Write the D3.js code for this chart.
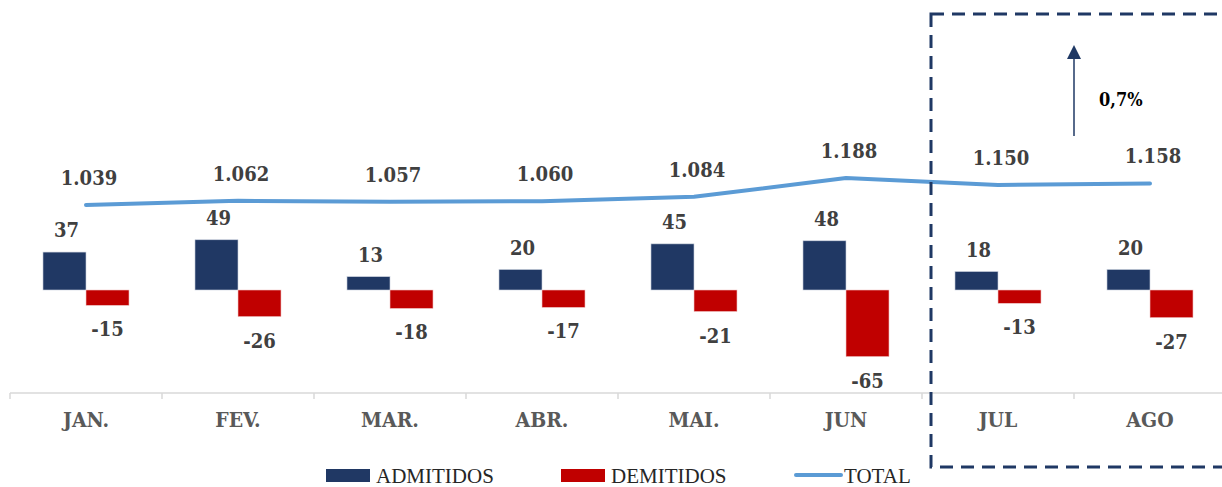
<!DOCTYPE html>
<html>
<head>
<meta charset="utf-8">
<script src="https://cdn.jsdelivr.net/npm/d3@7"></script>
<style>
  body { margin: 0; background: #fff; }
  svg { display: block; }
</style>
</head>
<body>
<svg id="chart" width="1222" height="487"></svg>
<script>
const months = ["JAN.", "FEV.", "MAR.", "ABR.", "MAI.", "JUN", "JUL", "AGO"];
const admitidos = [37, 49, 13, 20, 45, 48, 18, 20];
const demitidos = [-15, -26, -18, -17, -21, -65, -13, -27];
const total = [1039, 1062, 1057, 1060, 1084, 1188, 1150, 1158];
const growth = "0,7%";

const svg = d3.select("#chart");
const labelFont = "'DejaVu Serif Condensed', 'DejaVu Serif', serif";
const labelColor = "#404040";

// scales
const x = d3.scaleBand().domain(months).range([10, 1226]).paddingInner(0);
const x1 = d3.scaleBand().domain(["adm", "dem"]).range([0, x.bandwidth()]).paddingOuter(0.767);
const yBar = d3.scaleLinear().domain([-100, 100]).range([392.5, 187.5]);
const yLine = d3.scaleLinear().domain([1039, 1188]).range([205, 178]);

// x axis
const axis = svg.append("g").attr("transform", "translate(0,393)");
axis.append("line").attr("x1", 10).attr("x2", 1222).attr("stroke", "#d9d9d9").attr("stroke-width", 1.5);
axis.selectAll(".tick").data(months).enter().append("line")
  .attr("x1", d => x(d)).attr("x2", d => x(d))
  .attr("y1", 0).attr("y2", 6)
  .attr("stroke", "#d9d9d9").attr("stroke-width", 1.5);
axis.selectAll(".cat").data(months).enter().append("text")
  .attr("x", d => x(d) + x.bandwidth() / 2).attr("y", 34)
  .attr("text-anchor", "middle")
  .style("font-family", labelFont).style("font-weight", "bold").style("font-size", "21px")
  .attr("fill", "#595959")
  .text(d => d);

// bars
const bars = months.map((m, i) => ({m, adm: admitidos[i], dem: demitidos[i]}));
const g = svg.append("g");
g.selectAll(".adm").data(bars).enter().append("rect")
  .attr("x", d => x(d.m) + x1("adm"))
  .attr("y", d => yBar(d.adm))
  .attr("width", x1.bandwidth())
  .attr("height", d => yBar(0) - yBar(d.adm))
  .attr("fill", "#203864").attr("stroke", "#c9d0dd").attr("stroke-width", 0.6);
g.selectAll(".dem").data(bars).enter().append("rect")
  .attr("x", d => x(d.m) + x1("dem"))
  .attr("y", yBar(0))
  .attr("width", x1.bandwidth())
  .attr("height", d => yBar(d.dem) - yBar(0))
  .attr("fill", "#c00000").attr("stroke", "#f0c8c8").attr("stroke-width", 0.6);

g.selectAll(".admLbl").data(bars).enter().append("text")
  .attr("x", d => x(d.m) + x1("adm") + x1.bandwidth() / 2 + 2)
  .attr("y", d => yBar(d.adm) - 15)
  .attr("text-anchor", "middle")
  .style("font-family", labelFont).style("font-weight", "bold").style("font-size", "20px")
  .attr("fill", labelColor).text(d => d.adm);
g.selectAll(".demLbl").data(bars).enter().append("text")
  .attr("x", d => x(d.m) + x1("dem") + x1.bandwidth() / 2)
  .attr("y", d => yBar(d.dem) + 31)
  .attr("text-anchor", "middle")
  .style("font-family", labelFont).style("font-weight", "bold").style("font-size", "20px")
  .attr("fill", labelColor).text(d => d.dem);

// total line
const pts = months.map((m, i) => ({m, v: total[i]}));
const line = d3.line().x(d => x(d.m) + x.bandwidth() / 2).y(d => yLine(d.v));
svg.append("path").datum(pts).attr("d", line)
  .attr("fill", "none").attr("stroke", "#5b9bd5").attr("stroke-width", 4)
  .attr("stroke-linecap", "round").attr("stroke-linejoin", "round");
svg.selectAll(".totLbl").data(pts).enter().append("text")
  .attr("x", d => x(d.m) + x.bandwidth() / 2 + 3)
  .attr("y", d => yLine(d.v) - 20)
  .attr("text-anchor", "middle")
  .style("font-family", labelFont).style("font-weight", "bold").style("font-size", "20px")
  .attr("fill", labelColor).text(d => d3.format(",")(d.v).replace(",", "."));

// highlight box
svg.append("rect").attr("x", 931).attr("y", 14).attr("width", 320).attr("height", 453)
  .attr("fill", "none").attr("stroke", "#1f3864").attr("stroke-width", 3)
  .attr("stroke-dasharray", "13,8");

// arrow
const defs = svg.append("defs");
defs.append("marker").attr("id", "arr").attr("viewBox", "0 0 14 14")
  .attr("refX", 7).attr("refY", 2).attr("markerWidth", 14).attr("markerHeight", 14)
  .attr("markerUnits", "userSpaceOnUse").attr("orient", "auto-start-reverse")
  .append("path").attr("d", "M0,14 L7,0 L14,14 Z").attr("fill", "#1f3864");
const ax = x("AGO");
svg.append("line").attr("x1", ax).attr("x2", ax).attr("y1", 136).attr("y2", 58)
  .attr("stroke", "#1f3864").attr("stroke-width", 1.5);
svg.append("path").attr("d", `M${ax - 7},59 L${ax},45 L${ax + 7},59 Z`).attr("fill", "#1f3864");
svg.append("text").attr("x", ax + 25).attr("y", 106)
  .style("font-family", labelFont).style("font-weight", "bold").style("font-size", "18px")
  .attr("fill", "#000").text(growth);

// legend
const legend = [
  {name: "ADMITIDOS", color: "#203864", type: "rect", x: 326},
  {name: "DEMITIDOS", color: "#c00000", type: "rect", x: 561},
  {name: "TOTAL", color: "#5b9bd5", type: "line", x: 794}
];
const lg = svg.append("g");
legend.forEach(l => {
  if (l.type === "rect") {
    lg.append("rect").attr("x", l.x).attr("y", 469).attr("width", 44).attr("height", 13).attr("fill", l.color);
  } else {
    lg.append("line").attr("x1", l.x + 2).attr("x2", l.x + 47).attr("y1", 475).attr("y2", 475)
      .attr("stroke", l.color).attr("stroke-width", 4).attr("stroke-linecap", "round");
  }
  lg.append("text").attr("x", l.x + 50).attr("y", 483)
    .style("font-family", "'Liberation Serif', serif").style("font-size", "21px")
    .attr("fill", "#262626").text(l.name);
});
</script>
</body>
</html>
